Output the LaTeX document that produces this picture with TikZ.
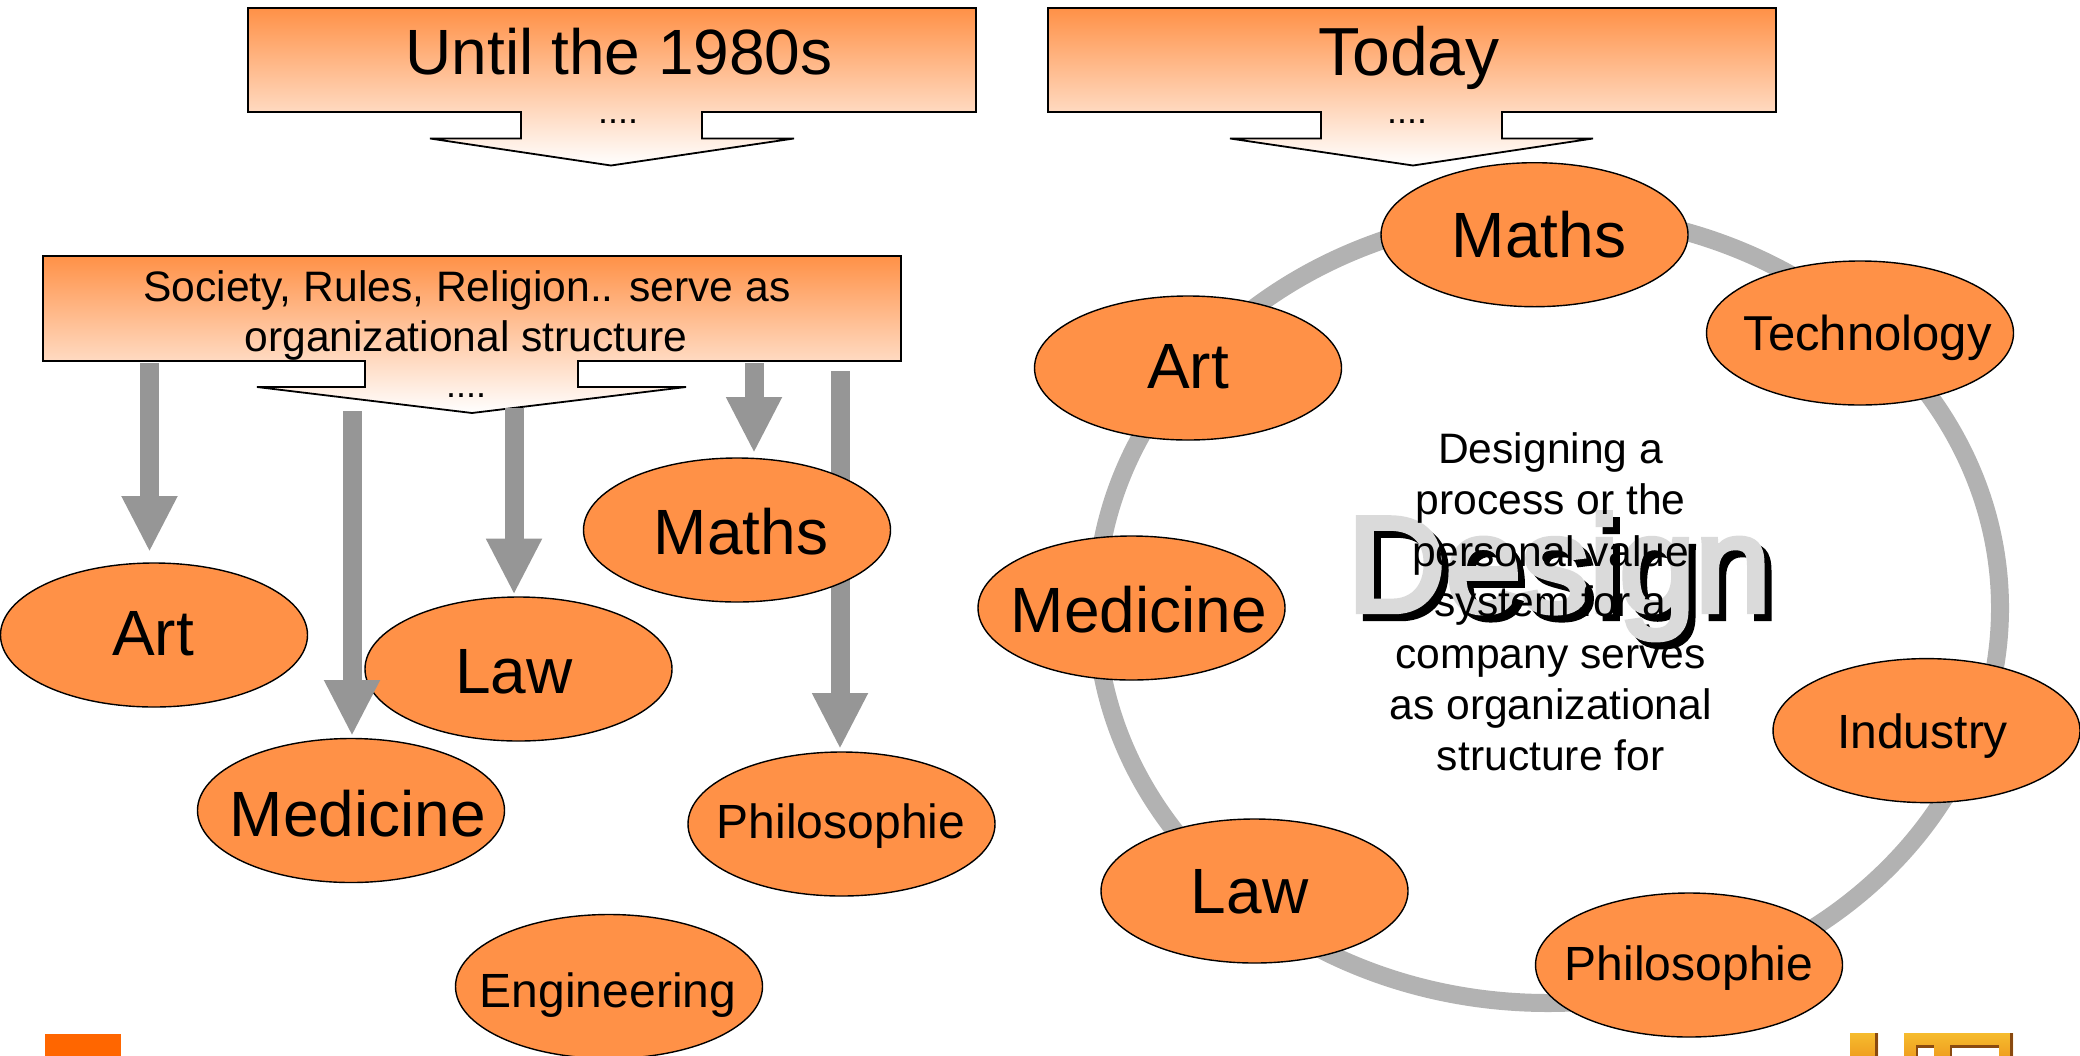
\documentclass[tikz,border=0pt]{standalone}
\usepackage{fontspec}
\setmainfont{Liberation Sans}
\newfontfamily\designfont[FakeBold=4]{Liberation Sans}
\usetikzlibrary{arrows.meta,shapes.geometric}
\definecolor{orangefill}{HTML}{FF9147}
\definecolor{ringgrey}{HTML}{B2B2B2}
\definecolor{arrowgrey}{HTML}{969696}
\definecolor{designgrey}{HTML}{DADADA}
\definecolor{logoorange}{HTML}{FF6600}
\definecolor{logotop}{HTML}{F6BC2E}
\definecolor{logobot}{HTML}{EE9A1E}
\definecolor{logoedge}{HTML}{8A4A10}
\tikzset{
  x=0.5pt,y=-0.5pt,
  callout/.style={draw=black,line width=0.9pt,top color=orangefill,bottom color=white,shading angle=0},
  oval/.style={ellipse,draw=black,line width=0.7pt,fill=orangefill,minimum width=153.5pt,minimum height=72pt,inner sep=0pt},
  lab/.style={anchor=base,inner sep=0pt,outer sep=0pt,text=black},
  big/.style={lab,font=\fontsize{32}{36}\selectfont},
  huge/.style={lab,font=\fontsize{34}{38}\selectfont},
  small/.style={lab,font=\fontsize{24}{28}\selectfont},
  body/.style={lab,font=\fontsize{21.3}{25.5}\selectfont},
  dots/.style={lab,font=\fontsize{18}{20}\selectfont},
  blockarrow/.style={draw=arrowgrey,line width=9.5pt,-{Triangle[length=28pt,width=26pt,color=arrowgrey]}},
  designtext/.style={anchor=base,inner sep=0pt,font=\designfont\fontsize{68}{72}\selectfont},
}
\begin{document}
\begin{tikzpicture}
\clip (0,0) rectangle (2080,1055);
% logos
\fill[logoorange] (45,1034) rectangle (121,1060);
\shade[top color=logotop,bottom color=logobot] (1850,1033) rectangle (1878,1060);
\fill[logoedge] (1875,1033) rectangle (1878,1060);
\shade[top color=logotop,bottom color=logobot] (1904,1033) rectangle (2013,1060);
\fill[logoedge] (2010,1033) rectangle (2013,1060);
\fill[logoedge] (1916,1045) rectangle (1934,1060);
\fill[logoedge] (1950,1045) rectangle (1999,1060);
\fill[white] (1918,1048) rectangle (1934,1060);
\fill[white] (1952,1048) rectangle (1999,1060);
% callouts
\path[callout] (248,8) -- (976,8) -- (976,112) -- (702,112) -- (702,138.5) -- (794,138.5) -- (611,165.5) -- (430,138.5) -- (521,138.5) -- (521,112) -- (248,112) -- cycle;
\path[callout] (1048,8) -- (1776,8) -- (1776,112) -- (1502,112) -- (1502,138.5) -- (1593,138.5) -- (1413,165.5) -- (1230,138.5) -- (1321,138.5) -- (1321,112) -- (1048,112) -- cycle;
\path[callout] (43,256) -- (901,256) -- (901,361) -- (578,361) -- (578,387) -- (686,387) -- (472,413) -- (257,387) -- (365,387) -- (365,361) -- (43,361) -- cycle;
\node[big] (until) at (619,74) {Until the 1980s};
\node[huge] (today) at (1409,75) {Today};
\node[dots] (dotsa) at (618,123) {....};
\node[dots] (dotsb) at (1407,123) {....};
\node[dots] (dotsc) at (466,397) {....};
\node[body] (soca) at (467,301) {Society, Rules, Religion.. serve as};
\node[body] (socb) at (466,351.5) {organizational structure};
% connector end points
\coordinate (artS) at (149.5,363); \coordinate (artE) at (149.5,552);
\coordinate (medS) at (352,411);   \coordinate (medE) at (352,736);
\coordinate (lawS) at (514,408);   \coordinate (lawE) at (514,594.6);
\coordinate (matS) at (754,363);   \coordinate (matE) at (754,453);
\coordinate (phiS) at (840,371);   \coordinate (phiE) at (840,749);
% left group
\draw[blockarrow] (phiS) -- (phiE);
\node[oval] (artL) at (154,635) {};
\node[oval] (lawL) at (518.5,669) {};
\node[oval] (medL) at (351,810.5) {};
\node[oval] (matL) at (737,530) {};
\node[oval] (phiL) at (841.5,824) {};
\node[oval] (engL) at (609,986.5) {};
\draw[blockarrow] (artS) -- (artE);
\draw[blockarrow] (medS) -- (medE);
\draw[blockarrow] (lawS) -- (lawE);
\draw[blockarrow] (matS) -- (matE);
\node[big] at (153,655) {Art};
\node[big] at (514,693) {Law};
\node[big] at (358,836) {Medicine};
\node[big] at (741,554) {Maths};
\node[small] at (841,838.5) {Philosophie};
\node[small] at (608,1007.5) {Engineering};
% right group
\draw[ringgrey,line width=9pt] (1548,608) ellipse [x radius=452,y radius=395];
\node[oval] (matR) at (1534.5,234.7) {};
\node[oval] (tecR) at (1860,333) {};
\node[oval] (artR) at (1188,368) {};
\node[oval] (medR) at (1131.5,608) {};
\node[oval] (indR) at (1926.5,730.6) {};
\node[oval] (lawR) at (1254.5,891) {};
\node[oval] (phiR) at (1689,965) {};
\node[big] at (1539,257) {Maths};
\node[lab,font=\fontsize{24.5}{28}\selectfont] at (1867.6,350) {Technology};
\node[big] at (1188,388) {Art};
\node[big] at (1139,632.6) {Medicine};
\node[small] at (1922.6,748.5) {Industry};
\node[big] at (1249.6,913.5) {Law};
\node[small] at (1689,980) {Philosophie};
\node[designtext,text=black] (designB) at (1566,618.5) {Design};
\node[designtext,text=designgrey] (designG) at (1559,611.5) {Design};
\node[body] (t1) at (1550.6,463) {Designing a};
\node[body] (t2) at (1550.6,514.7) {process or the};
\node[body] (t3) at (1550.6,566.6) {personal value};
\node[body] (t4) at (1550.6,616.7) {system for a};
\node[body] (t5) at (1550.6,668.6) {company serves};
\node[body] (t6) at (1550.6,719) {as organizational};
\node[body] (t7) at (1550.6,770) {structure for};
\end{tikzpicture}
\end{document}
